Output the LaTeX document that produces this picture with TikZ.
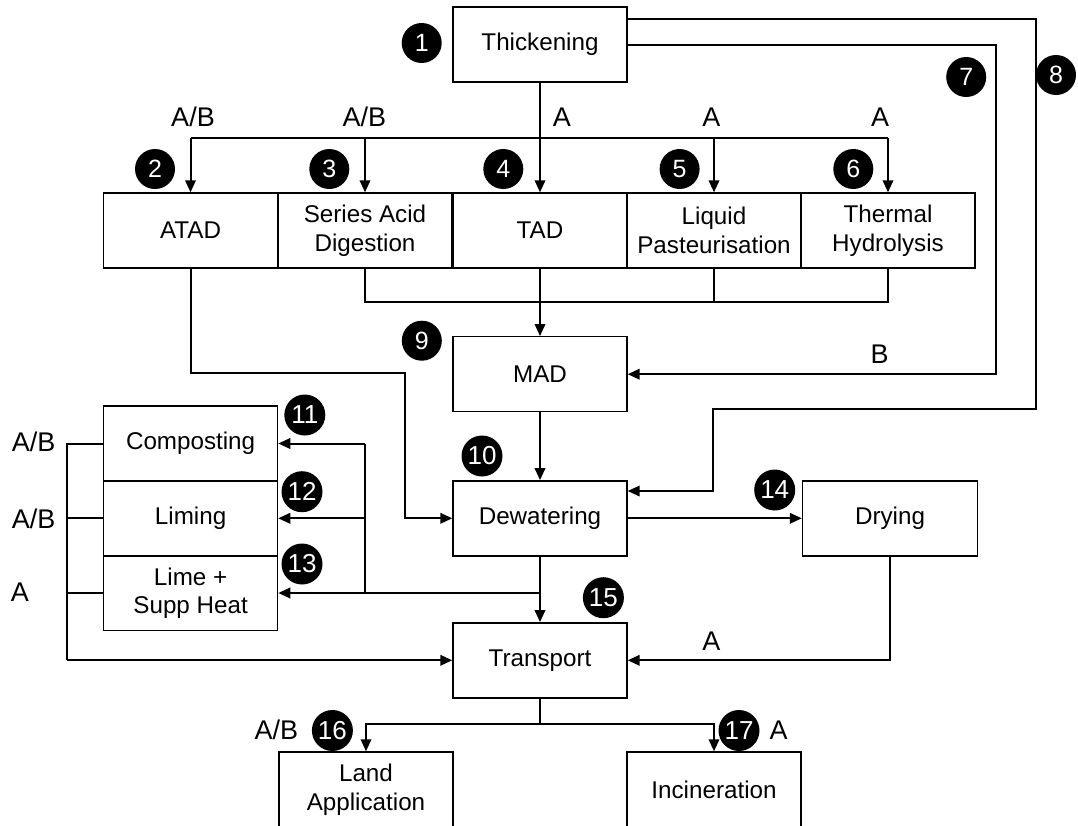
\documentclass[tikz,border=0pt]{standalone}
\usepackage{fontspec}
\setmainfont{Liberation Sans}
\usetikzlibrary{arrows.meta}
\begin{document}
\begin{tikzpicture}[x=1pt,y=-1pt,
  box/.style={draw, line width=1.4pt, minimum width=174pt, minimum height=75pt, inner sep=0pt, align=center, font=\fontsize{24.2}{28.5}\selectfont},
  conn/.style={line width=2pt},
  arr/.style={conn, -{Triangle[length=12pt,width=10.5pt]}},
  lab/.style={font=\fontsize{27}{30}\selectfont, inner sep=0pt, anchor=base},
  num/.style={circle, fill=black, text=white, minimum size=40pt, inner sep=0pt, font=\fontsize{25}{25}\selectfont},
  numw/.style={num, minimum size=41pt, font=\fontsize{26}{26}\selectfont}
]
\useasboundingbox (0,0) rectangle (1078,825);
\fill[white] (0,0) rectangle (1078,825);

% boxes
\node[box] (thick) at (540,44.5) {Thickening};
\node[box] (atad) at (190.5,230.5) {ATAD};
\node[box] (sad) at (365,230.5) {Series Acid\\Digestion};
\node[box] (tad) at (540,230.5) {TAD};
\node[box] (lp) at (714,230.5) {Liquid\\Pasteurisation};
\node[box] (th) at (888,230.5) {Thermal\\Hydrolysis};
\node[box] (mad) at (540,374.2) {MAD};
\node[box] (dew) at (540,518.3) {Dewatering};
\node[box, minimum width=175pt] (dry) at (890,518.3) {Drying};
\node[box] (trans) at (540,660.3) {Transport};
\node[box] (comp) at (190.6,443.5) {Composting};
\node[box] (lim) at (190.6,518.3) {Liming};
\node[box] (lime) at (190.6,593) {Lime +\\Supp Heat};
\node[box] (land) at (366,789.5) {Land\\Application};
\node[box] (inc) at (714,789.5) {Incineration};

% distribution from thickening
\coordinate (dist) at (0,137.7);
\draw[arr] (thick.south) -- (tad.north);
\draw[conn] (atad.north |- dist) -- (th.north |- dist);
\draw[arr] (atad.north |- dist) -- (atad.north);
\draw[arr] (sad.north |- dist) -- (sad.north);
\draw[arr] (lp.north |- dist) -- (lp.north);
\draw[arr] (th.north |- dist) -- (th.north);

% collector below the row
\coordinate (col) at (0,302.3);
\draw[conn] (sad.south) |- (th.south |- col) -- (th.south);
\draw[conn] (lp.south) -- (lp.south |- col);
\draw[arr] (tad.south) -- (mad.north);

% ATAD to dewatering
\coordinate (ab) at (404.6,372.7);
\draw[arr] (atad.south) |- (ab) |- (dew.west);

% bypass 7 and 8
\coordinate (r7) at (996,0);
\draw[arr] (thick.east) -| (r7 |- mad.east) -- (mad.east);
\coordinate (r8) at (1035.8,409.3);
\coordinate (j8) at (713,409.3);
\draw[arr] ([yshift=26pt]thick.east) -| (r8) -- (j8) |- ([yshift=27.3pt]dew.east);

% main line
\draw[arr] (mad.south) -- (dew.north);
\draw[arr] (dew.east) -- (dry.west);
\draw[arr] (dew.south) -- (trans.north);

% feed to stabilisation
\coordinate (fd) at (365,593);
\draw[arr] (dew.south |- fd) -- (lime.east);
\draw[conn] (fd) -- (fd |- comp.east);
\draw[arr] (fd |- comp.east) -- (comp.east);
\draw[arr] (fd |- lim.east) -- (lim.east);

% left collector
\coordinate (lc) at (66.5,660.3);
\draw[conn] (comp.west) -| (lc);
\draw[conn] (lim.west) -- (lim.west -| lc);
\draw[conn] (lime.west) -- (lime.west -| lc);
\draw[arr] (lc) -- (trans.west);

% drying to transport
\draw[arr] (dry.south) |- (trans.east);

% transport split
\coordinate (sp) at (540,724.3);
\draw[conn] (trans.south) -- (sp);
\draw[arr] (sp) -| (land.north);
\draw[arr] (sp) -| (inc.north);

% labels
\node[lab] (l1) at (193,126.5) {A/B};
\node[lab] (l2) at (364.3,126.5) {A/B};
\node[lab] (l3) at (561.8,126.5) {A};
\node[lab] (l4) at (711.4,126.5) {A};
\node[lab] (l5) at (880.2,126.5) {A};
\node[lab] (l6) at (879.5,363.3) {B};
\node[lab] (l7) at (711.4,650.7) {A};
\node[lab] (l8) at (33.6,451.7) {A/B};
\node[lab] (l9) at (33.6,528.3) {A/B};
\node[lab] (l10) at (19.8,601.7) {A};
\node[lab] (l11) at (276.3,739.3) {A/B};
\node[lab] (l12) at (778.6,739.3) {A};

% numbers
\node[num] (n1) at (421.7,43) {1};
\node[num] (n2) at (155,169) {2};
\node[num] (n3) at (329.3,169) {3};
\node[num] (n4) at (503.3,169) {4};
\node[num] (n5) at (679.6,169) {5};
\node[num] (n6) at (853.3,169) {6};
\node[num] (n7) at (966.2,77) {7};
\node[num] (n8) at (1056,75) {8};
\node[num] (n9) at (421.8,340.7) {9};
\node[numw] (n10) at (482,456) {10};
\node[numw] (n11) at (304.8,415) {11};
\node[numw] (n12) at (302,491.7) {12};
\node[numw] (n13) at (302,564) {13};
\node[numw] (n14) at (774.7,490) {14};
\node[numw] (n15) at (603.4,597.7) {15};
\node[numw] (n16) at (332.4,730.5) {16};
\node[numw] (n17) at (739,730.5) {17};
\end{tikzpicture}
\end{document}
